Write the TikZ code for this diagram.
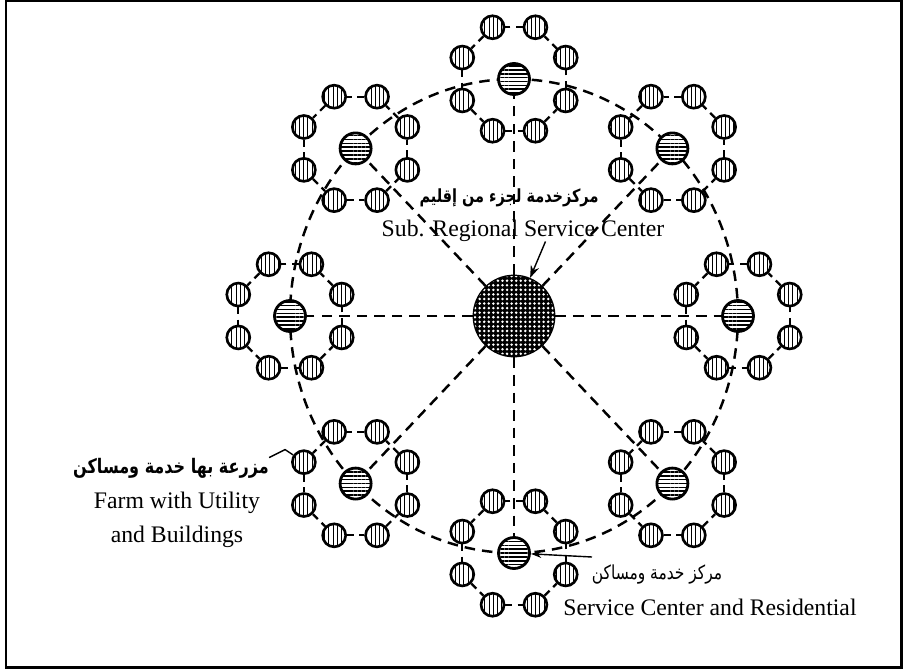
\documentclass[tikz,border=0pt]{standalone}
\usepackage{fontspec}
\setmainfont{Liberation Serif}
\newfontfamily\arabicfont[Script=Arabic, FakeStretch=0.8]{DejaVu Sans}
\TeXXeTstate=1
\usetikzlibrary{arrows.meta,patterns.meta}

\begin{document}
\begin{tikzpicture}[
  x=0.02cm, y=-0.02cm,
  core/.style={circle, draw, line width=1.6pt, inner sep=0pt, minimum size=1.6cm, fill=black, postaction={pattern={Dots[distance=2.6pt, radius=0.8pt]}, pattern color=white}},
  hub/.style={circle, draw, line width=1.6pt, inner sep=0pt, minimum size=0.62cm, preaction={fill=white}, pattern={Lines[angle=0, distance=2.2pt, line width=0.9pt]}},
  house/.style={circle, draw, line width=1.5pt, inner sep=0pt, minimum size=0.46cm, preaction={fill=white}, pattern={Lines[angle=90, distance=2.4pt, line width=0.5pt]}},
  spoke/.style={line width=1.4pt, dash pattern=on 6pt off 4pt},
  ring/.style={line width=1.3pt, dash pattern=on 4pt off 3pt},
  leader/.style={line width=0.8pt},
  lbl/.style={font=\fontsize{13.5}{19}\selectfont, inner sep=0pt},
  arlbl/.style={font=\fontsize{11}{13}\selectfont\arabicfont, inner sep=0pt},
  arbold/.style={font=\fontsize{10.3}{12}\selectfont\arabicfont\bfseries, inner sep=0pt}
]
\useasboundingbox (0,0) rectangle (905,669);
\draw[line width=1.7pt] (6,1) rectangle (901,667);

\node[core] (core) at (514,316) {};
\draw[spoke] (core.center) ellipse [x radius=4.48cm, y radius=4.74cm];

\foreach \a [count=\i] in {90,45,0,-45,-90,-135,180,135}{
  \node[hub] (hub\i) at ({514+224*cos(\a)},{316-237*sin(\a)}) {};
  \foreach \b [count=\j] in {22.5,67.5,...,337.5}
    \node[house] (h\i-\j) at ({514+224*cos(\a)+56*cos(\b)},{316-237*sin(\a)-56*sin(\b)}) {};
  \foreach \j [evaluate=\j as \k using {int(mod(\j,8)+1)}] in {1,...,8}
    \draw[ring] (h\i-\j) -- (h\i-\k);
  \draw[spoke] (core) -- (hub\i);
}

\node[arbold] (arcore) at (509,198) {\beginR مركزخدمة لجزء من إقليم\endR};
\node[lbl, anchor=base] (subreg) at (523,236) {Sub. Regional Service Center};
\draw[leader, -{Stealth[length=7pt, width=5pt]}] ([xshift=0.45cm]subreg.south) -- (core);

\node[arbold, font=\fontsize{11.4}{13}\selectfont\arabicfont\bfseries] (arfarm) at (171,468) {\beginR مزرعة بها خدمة ومساكن\endR};
\node[lbl, align=center, anchor=north] (farm) at (177,492) {Farm with Utility\\and Buildings};
\draw[leader] (arfarm.north east) -- ++(16,-8) -- (h6-4);

\coordinate (svctail) at (592,557);
\draw[leader, -{Stealth[length=6pt, width=4pt]}] (svctail) -- (hub5);
\node[arlbl] (arsvc) at (657,575) {\beginR مركز خدمة ومساكن\endR};
\node[lbl, anchor=base] (svc) at (710,615) {Service Center and Residential};

\end{tikzpicture}
\end{document}
